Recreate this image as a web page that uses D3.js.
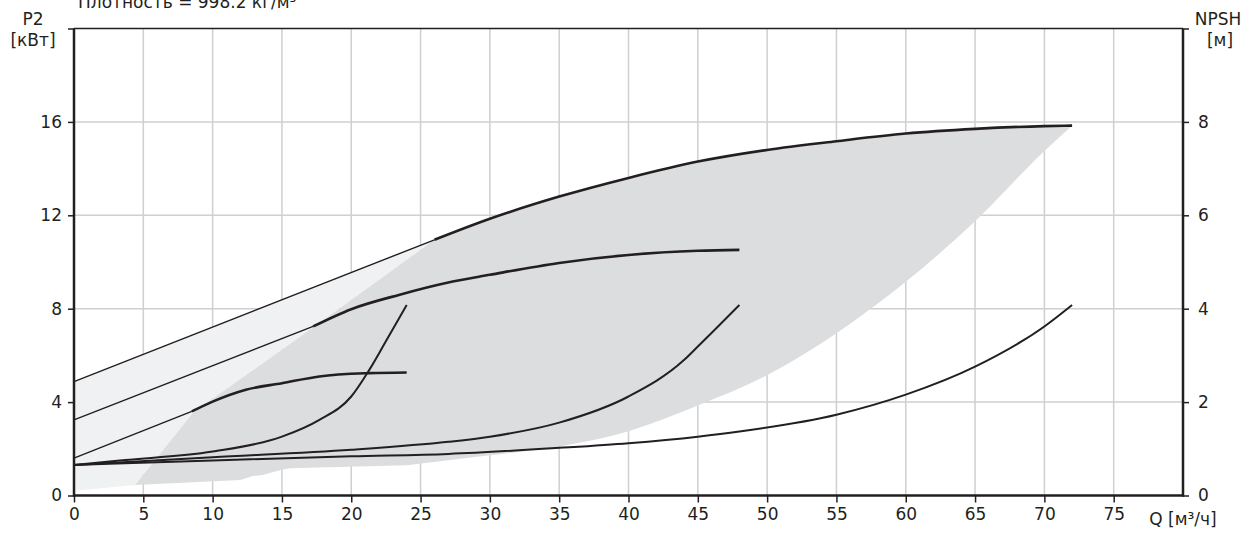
<!DOCTYPE html>
<html><head><meta charset="utf-8">
<script src="https://cdn.jsdelivr.net/npm/d3@7"></script>
<style>
html,body{margin:0;padding:0;background:#fff;}
svg{display:block;font-family:"DejaVu Sans",Verdana,sans-serif;}
</style></head>
<body>
<svg id="chart" width="1258" height="533"></svg>
<script>
// ---- data ----
const qTicks = [0,5,10,15,20,25,30,35,40,45,50,55,60,65,70,75];
const pTicks = [0,4,8,12,16];
const npshTicks = [0,2,4,6,8];

// P2 power curves [kW] (thick part)
const p2LargeQ = [26,30,35,40,45,50,55,60,65,70,72];
const p2LargeP = [10.95,11.85,12.8,13.6,14.3,14.8,15.17,15.5,15.7,15.82,15.84];
const p2MidQ = [17.25,20,23.5,27,30,35,40,45,48];
const p2MidP = [7.24,7.98,8.6,9.12,9.45,9.96,10.3,10.48,10.52];
const p2SmallQ = [8.5,10,12.4,15,17.7,21.3,24];
const p2SmallP = [3.6,4.02,4.53,4.81,5.1,5.24,5.27];
// thin extensions from Q=0
const p2ExtStartP = [4.88,3.24,1.6];

// NPSH curves [m]
const npsh1Q = [0,3.3,10,15,17.7,20,21.3,22.55,24];
const npsh1H = [0.655,0.75,0.94,1.26,1.62,2.12,2.69,3.33,4.08];
const npsh2Q = [0,10,20,27,30,35,40,44,45,48];
const npsh2H = [0.655,0.82,0.98,1.15,1.26,1.56,2.12,2.9,3.19,4.08];
const npsh3Q = [0,10,20,27,35,40,45,48,55,60,65,70,72];
const npsh3H = [0.655,0.75,0.84,0.89,1.02,1.12,1.26,1.37,1.73,2.16,2.76,3.62,4.08];

// operating range (P2 units)
const rangeLeftQ = [4.4,8.6,17.25,26];
const rangeLeftP = [0.45,3.55,7.2,10.95];
const rangeRightQ = [24,30,35,40,45,50,55,60,65,70,72];
const rangeRightP = [1.3,1.72,2.1,2.75,3.85,5.15,6.95,9.15,11.75,14.75,15.84];
const rangeBottomQ = [4.4,12,12.9,13.6,15,15.6,24];
const rangeBottomP = [0.45,0.66,0.83,0.88,1.1,1.17,1.3];
const lightBottomQ = [0,4.4];
const lightBottomP = [0.2,0.45];

// ---- scales ----
const svg = d3.select('#chart');
const x = d3.scaleLinear().domain([0,80]).range([74,1183]);
const y = d3.scaleLinear().domain([0,20]).range([495.5,28.5]);
const yR = d3.scaleLinear().domain([0,10]).range([495.5,28.5]);
const ink = '#231f20';

const zip = (a,b)=>a.map((v,i)=>[v,b[i]]);
const lineP = d3.line().x(d=>x(d[0])).y(d=>y(d[1])).curve(d3.curveMonotoneX);
const lineLin = d3.line().x(d=>x(d[0])).y(d=>y(d[1]));
const lineN = d3.line().x(d=>x(d[0])).y(d=>yR(d[1])).curve(d3.curveMonotoneX);

// grid
const g = svg.append('g');
g.selectAll('.vg').data(qTicks.filter(d=>d>0)).join('line')
  .attr('x1',d=>x(d)).attr('x2',d=>x(d)).attr('y1',y(0)).attr('y2',y(20))
  .attr('stroke','#cfcfd1').attr('stroke-width',1.5);
g.selectAll('.hg').data(pTicks.filter(d=>d>0)).join('line')
  .attr('x1',x(0)).attr('x2',x(80)).attr('y1',d=>y(d)).attr('y2',d=>y(d))
  .attr('stroke','#cfcfd1').attr('stroke-width',1.5);

// light region
const lightPts = [[0,p2ExtStartP[0]],[p2LargeQ[0],p2LargeP[0]]]
  .concat(zip(rangeLeftQ,rangeLeftP).reverse())
  .concat(zip(lightBottomQ,lightBottomP).reverse());
svg.append('path').attr('d',lineLin(lightPts)+'Z').attr('fill','#f0f1f2');

// dark region
const upperPath = lineLin(zip(rangeLeftQ,rangeLeftP)) + lineP(zip(p2LargeQ,p2LargeP)).replace(/^M/,'L');
const rightRev = zip(rangeRightQ,rangeRightP).reverse();
const rightPath = lineP(rightRev).replace(/^M/,'L');
const bottomPath = lineLin(zip(rangeBottomQ,rangeBottomP).reverse()).replace(/^M/,'L');
svg.append('path').attr('d',upperPath+rightPath+bottomPath+'Z').attr('fill','#dcdddf');

// thin extension lines
const thickStarts = [[p2LargeQ[0],p2LargeP[0]],[p2MidQ[0],p2MidP[0]],[p2SmallQ[0],p2SmallP[0]]];
thickStarts.forEach((s,i)=>{
  svg.append('path').attr('d',lineLin([[0,p2ExtStartP[i]],s]))
    .attr('fill','none').attr('stroke',ink).attr('stroke-width',1.4);
});

// NPSH curves
[[npsh1Q,npsh1H],[npsh2Q,npsh2H],[npsh3Q,npsh3H]].forEach(([q,h])=>{
  svg.append('path').attr('d',lineN(zip(q,h)))
    .attr('fill','none').attr('stroke',ink).attr('stroke-width',2);
});

// P2 thick curves
[[p2LargeQ,p2LargeP],[p2MidQ,p2MidP],[p2SmallQ,p2SmallP]].forEach(([q,p])=>{
  svg.append('path').attr('d',lineP(zip(q,p)))
    .attr('fill','none').attr('stroke',ink).attr('stroke-width',2.6);
});

// axes
const fs = 17;
const ff = '"DejaVu Sans",Verdana,sans-serif';
const axL = svg.append('g').attr('transform',`translate(${x(0)},0)`)
  .call(d3.axisLeft(y).tickValues([0,4,8,12,16,20]).tickFormat(d=>d===20?'':d).tickSize(6).tickPadding(6));
const axR = svg.append('g').attr('transform',`translate(${x(80)},0)`)
  .call(d3.axisRight(yR).tickValues([0,2,4,6,8,10]).tickFormat(d=>d===10?'':d).tickSize(6).tickPadding(9));
const axB = svg.append('g').attr('transform',`translate(0,${y(0)})`)
  .call(d3.axisBottom(x).tickValues(qTicks).tickSize(7).tickPadding(5));
[axL,axR,axB].forEach(a=>{
  a.select('.domain').remove();
  a.selectAll('line').attr('stroke',ink).attr('stroke-width',1.5);
  a.selectAll('text').attr('fill',ink).attr('font-size',fs).attr('font-family',ff);
});
// frame
svg.append('line').attr('x1',x(0)).attr('x2',x(80)).attr('y1',y(20)).attr('y2',y(20)).attr('stroke',ink).attr('stroke-width',1.5);
svg.append('line').attr('x1',x(0)).attr('x2',x(0)).attr('y1',y(20)).attr('y2',y(0)+1).attr('stroke',ink).attr('stroke-width',2.5);
svg.append('line').attr('x1',x(80)).attr('x2',x(80)).attr('y1',y(20)).attr('y2',y(0)+1).attr('stroke',ink).attr('stroke-width',2.5);
svg.append('line').attr('x1',x(0)-1).attr('x2',x(80)+1).attr('y1',y(0)).attr('y2',y(0)).attr('stroke',ink).attr('stroke-width',2.5);

// labels
const txt = (t,xx,yy,anchor)=>svg.append('text').attr('x',xx).attr('y',yy).attr('text-anchor',anchor||'middle')
  .attr('font-size',fs).attr('font-family',ff).attr('fill',ink).text(t);
txt('Плотность = 998.2 кг/м³',78,8,'start');
txt('P2',33,25);
txt('[кВт]',33,46);
txt('NPSH',1218,25);
txt('[м]',1220,46);
txt('Q [м³/ч]',x(80),525);
</script>
</body></html>
